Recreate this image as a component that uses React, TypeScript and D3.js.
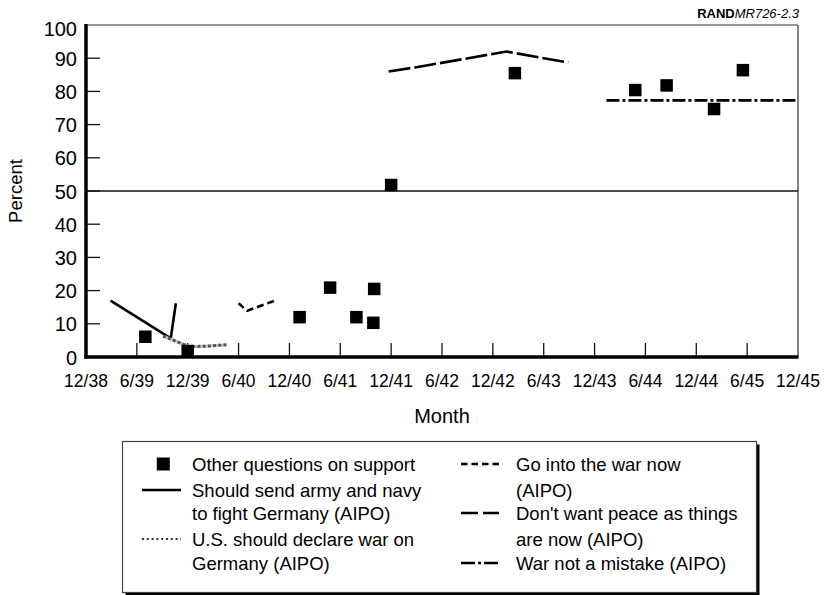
import * as d3 from "d3";

// months counted from Dec 1938 (0) to Dec 1945 (84)
const xTickLabels = [
  "12/38", "6/39", "12/39", "6/40", "12/40", "6/41", "12/41", "6/42",
  "12/42", "6/43", "12/43", "6/44", "12/44", "6/45", "12/45",
];
const yTicks = [0, 10, 20, 30, 40, 50, 60, 70, 80, 90, 100];

const otherQuestions: [number, number][] = [
  [7, 6.1], [12, 1.8], [25.2, 12], [28.8, 20.9], [31.9, 12], [33.9, 10.3],
  [34, 20.5], [36, 51.8], [50.6, 85.5], [64.8, 80.4], [68.5, 81.8],
  [74.1, 74.7], [77.5, 86.4],
];
const sendArmy: [number, number][] = [[2.9, 17], [10, 5.6], [10.6, 16.2]];
const declareWar: [number, number][] = [[9.1, 6.3], [12.2, 3.1], [14.5, 3.3], [16.6, 3.7]];
const goIntoWar: [number, number][] = [[18, 16.2], [19, 13.9], [22.4, 17.1]];
const noPeace: [number, number][] = [[35.7, 86], [39, 87.3], [49.6, 92], [56.9, 88.7]];
const notMistake: [number, number][] = [[61.4, 77.3], [84, 77.3]];

const font = "'Liberation Sans', Arial, Helvetica, sans-serif";

const App = () => {
  const width = 828;
  const height = 595;
  const left = 86;
  const right = 798;
  const top = 25;
  const bottom = 357;

  const x = d3.scaleLinear().domain([0, 84]).range([left, right]);
  const y = d3.scaleLinear().domain([0, 100]).range([bottom, top]);
  const line = d3
    .line<[number, number]>()
    .x((d) => x(d[0]))
    .y((d) => y(d[1]));

  const series = [
    { data: sendArmy, dash: undefined },
    { data: goIntoWar, dash: "7,4" },
    { data: noPeace, dash: "22,4" },
    { data: notMistake, dash: "13,3,3,3" },
  ];

  const sq = 12.5;

  // legend layout
  const lx = 122.5;
  const ly = 441.5;
  const lw = 634;
  const lh = 151;
  const rows = [464, 490, 513, 539, 563];
  const legendFont = 18.5;

  return (
    <svg
      width={width}
      height={height}
      style={{ position: "absolute", left: 0, top: 0, background: "#fff" }}
      fontFamily={font}
    >
      <text x={799} y={18} textAnchor="end" fontSize={13}>
        <tspan fontWeight="bold">RAND</tspan>
        <tspan fontStyle="italic">MR726-2.3</tspan>
      </text>

      {/* frame */}
      <line x1={left} x2={right} y1={top} y2={top} stroke="#333" strokeWidth={1.2} />
      <line x1={right} x2={right} y1={top} y2={bottom} stroke="#333" strokeWidth={1.2} />
      <line x1={left} x2={right} y1={y(50)} y2={y(50)} stroke="#111" strokeWidth={1.3} />

      {/* y ticks */}
      {yTicks.map((t) => (
        <g key={t}>
          {t > 0 && t < 100 && (
            <line x1={left} x2={left + 14} y1={y(t)} y2={y(t)} stroke="#111" strokeWidth={1.3} />
          )}
          <text
            x={77}
            y={y(t) + (t === 100 ? 4 : 0.5) + 7}
            textAnchor="end"
            fontSize={20}
          >
            {t}
          </text>
        </g>
      ))}

      {/* x ticks */}
      {xTickLabels.map((lab, i) => (
        <g key={lab}>
          {i > 0 && i < xTickLabels.length - 1 && (
            <line x1={x(i * 6)} x2={x(i * 6)} y1={bottom} y2={bottom - 14} stroke="#111" strokeWidth={1.3} />
          )}
          <text x={x(i * 6)} y={387} textAnchor="middle" fontSize={17.5}>
            {lab}
          </text>
        </g>
      ))}

      {/* axes */}
      <line x1={left} x2={left} y1={top - 1} y2={bottom + 1.5} stroke="#000" strokeWidth={3.5} />
      <line x1={left - 1.5} x2={right + 0.5} y1={bottom} y2={bottom} stroke="#000" strokeWidth={3.5} />

      <text
        transform={`translate(22, ${y(50)}) rotate(-90)`}
        textAnchor="middle"
        fontSize={18.5}
      >
        Percent
      </text>
      <text x={(left + right) / 2} y={423} textAnchor="middle" fontSize={20}>
        Month
      </text>

      {/* series */}
      {series.map((s, i) => (
        <path
          key={i}
          d={line(s.data) ?? ""}
          fill="none"
          stroke="#000"
          strokeWidth={2.6}
          strokeDasharray={s.dash}
        />
      ))}
      {/* dotted gray series: light underlay with dark dots */}
      <path d={line(declareWar) ?? ""} fill="none" stroke="#c4c4c4" strokeWidth={3} />
      <path d={line(declareWar) ?? ""} fill="none" stroke="#555" strokeWidth={3} strokeDasharray="3,2.2" />

      {otherQuestions.map((d, i) => (
        <rect
          key={i}
          x={x(d[0]) - sq / 2}
          y={y(d[1]) - sq / 2}
          width={sq}
          height={sq}
          fill="#000"
        />
      ))}

      {/* legend */}
      <rect x={lx + 3} y={ly + 3} width={lw} height={lh} fill="#000" />
      <rect x={lx} y={ly} width={lw} height={lh} fill="#fff" stroke="#444" strokeWidth={1.2} />
      <g fontSize={legendFont}>
        <rect x={163.3 - 6.5} y={rows[0] - 6.5} width={13} height={13} fill="#000" />
        <text x={192} y={rows[0] + 6.5}>Other questions on support</text>

        <line x1={142} x2={181} y1={rows[1]} y2={rows[1]} stroke="#000" strokeWidth={2.4} />
        <text x={192} y={rows[1] + 6.5}>Should send army and navy</text>
        <text x={192} y={rows[2] + 6.5}>to fight Germany (AIPO)</text>

        <line x1={142} x2={181} y1={rows[3]} y2={rows[3]} stroke="#333" strokeWidth={1.8} strokeDasharray="2,2.8" />
        <text x={192} y={rows[3] + 6.5}>U.S. should declare war on</text>
        <text x={192} y={rows[4] + 6.5}>Germany (AIPO)</text>

        <line x1={461} x2={499} y1={rows[0]} y2={rows[0]} stroke="#000" strokeWidth={2.4} strokeDasharray="6.5,4" />
        <text x={516} y={rows[0] + 6.5}>Go into the war now</text>
        <text x={516} y={rows[1] + 6.5}>(AIPO)</text>

        <line x1={461} x2={499} y1={rows[2]} y2={rows[2]} stroke="#000" strokeWidth={2.4} strokeDasharray="17,5" />
        <text x={516} y={rows[2] + 6.5}>Don't want peace as things</text>
        <text x={516} y={rows[3] + 6.5}>are now (AIPO)</text>

        <line x1={461} x2={499} y1={rows[4]} y2={rows[4]} stroke="#000" strokeWidth={2.4} strokeDasharray="14,3,3,3" />
        <text x={516} y={rows[4] + 6.5}>War not a mistake (AIPO)</text>
      </g>
    </svg>
  );
};

export default App;
